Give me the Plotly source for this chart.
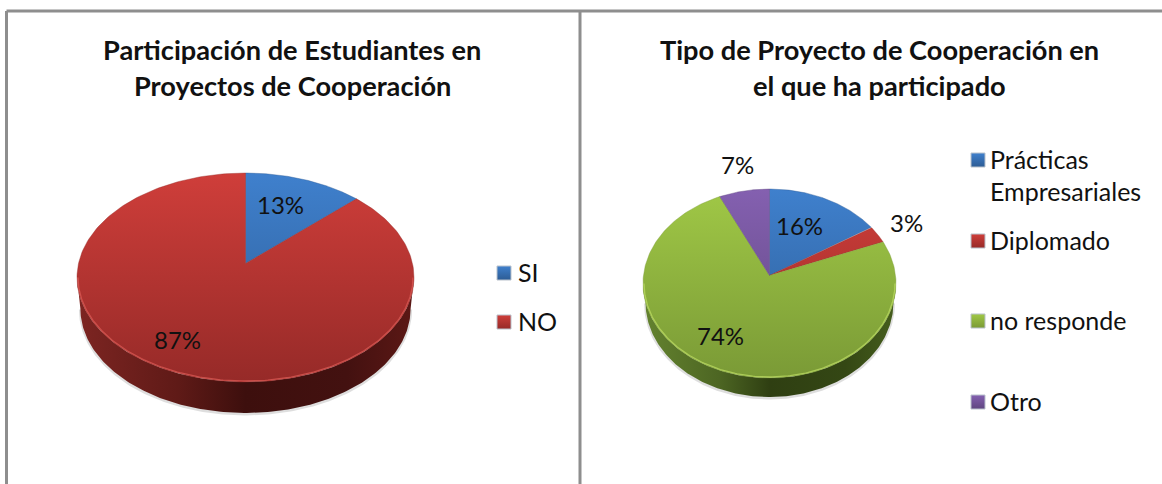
import numpy as np
import plotly.graph_objects as go

# ---------- data ----------
left_title = ["Participación de Estudiantes en", "Proyectos de Cooperación"]
left_categories = ["SI", "NO"]
left_values = [13, 87]

right_title = ["Tipo de Proyecto de Cooperación en", "el que ha participado"]
right_categories = ["Prácticas<br>Empresariales", "Diplomado", "no responde", "Otro"]
right_values = [16, 3, 74, 7]

# ---------- style / layout ----------
W, H = 1162, 484
FONT = "Lato"
TEXT = "#111111"
BLUE = ("#3f80cd", "#2d5c94")
RED = ("#cf3e3a", "#962a28")
GREEN = ("#a0c846", "#7a9a36")
PURPLE = ("#8460b0", "#5f4680")

LEFT = dict(cx=245.5, cy=277.5, rx=168.5, ry=104.5, apex=14, depth=31,
            colors=[BLUE, RED], rim="#dc5a55",
            wall=[[0, "#7d2522"], [0.3, "#5f1a17"], [0.5, "#3d0f0d"], [0.8, "#431110"], [1, "#5c1815"]],
            label_xy=[(280, 204), (177, 339)],
            swatch_xy=[(504, 273), (504, 322)], legend_text_x=515.5)
RIGHT = dict(cx=769.5, cy=283.5, rx=126.5, ry=94.5, apex=8, depth=19,
             colors=[BLUE, RED, GREEN, PURPLE], rim="#bcdc62",
             wall=[[0, "#64832f"], [0.3, "#4d6623"], [0.5, "#2f3f12"], [0.8, "#344714"], [1, "#465e1d"]],
             label_xy=[(799.5, 225), (906, 222), (720, 335), (737, 164)],
             swatch_xy=[(978, 160), (978, 241), (978, 321), (978, 402)], legend_text_x=988)


def rim_point(theta, apex):
    """Where a ray at angle theta from the raised apex meets the unit disc."""
    s, c = np.sin(theta), np.cos(theta)
    r = -apex * c + np.sqrt((apex * c) ** 2 + 1 - apex ** 2)
    return r * s, apex + r * c


fig = go.Figure()
annotations = []


def add_text(x, y, text, size, bold=False, anchor="center"):
    annotations.append(dict(
        x=x, y=y, xref="x", yref="y", text=f"<b>{text}</b>" if bold else text,
        showarrow=False, xanchor=anchor, yanchor="middle", align="left",
        font=dict(family=FONT, size=size, color=TEXT)))


def add_pie(p, values, categories):
    cx, cy, rx, ry = p["cx"], p["cy"], p["rx"], p["ry"]
    top, bottom = cy - ry, cy + ry

    # soft shadow under the wall
    t = np.linspace(np.pi, 0, 200)
    ux, uy = np.cos(t), np.sin(t)
    fig.add_trace(go.Scatter(
        x=cx + rx * 0.98 * ux, y=cy + p["depth"] + ry * uy + 1, mode="lines",
        line=dict(width=3, color="rgba(0,0,0,0.13)"), hoverinfo="skip"))

    # side wall
    wx = np.concatenate([cx + rx * ux, (cx + rx * 0.98 * ux)[::-1]])
    wy = np.concatenate([cy + ry * uy, (cy + p["depth"] + ry * uy)[::-1]])
    fig.add_trace(go.Scatter(
        x=wx, y=wy, mode="lines", line=dict(width=0), fill="toself", hoverinfo="skip",
        fillgradient=dict(type="horizontal", colorscale=p["wall"],
                          start=cx - rx, stop=cx + rx)))

    # top-surface slices
    apex = p["apex"] / ry
    total = sum(values)
    edges = np.cumsum([0] + list(values)) / total * 2 * np.pi
    for i, value in enumerate(values):
        theta = np.linspace(edges[i], edges[i + 1], 240)
        px, py = rim_point(theta, apex)
        xs = np.concatenate([[0], px, [0]])
        ys = np.concatenate([[apex], py, [apex]])
        c0, c1 = p["colors"][i]
        fig.add_trace(go.Scatter(
            x=cx + rx * xs, y=cy - ry * ys, mode="lines", line=dict(width=0.4, color=c1),
            fill="toself", name=categories[i].replace("<br>", " "),
            text=f"{value}%", hoverinfo="name+text",
            fillgradient=dict(type="vertical", colorscale=[[0, c0], [1, c1]],
                              start=top, stop=bottom)))
        lx, ly = p["label_xy"][i]
        add_text(lx, ly, f"{value}%", 24)

    # light bevel along the front rim
    fig.add_trace(go.Scatter(
        x=cx + (rx - 1) * ux, y=cy + (ry - 1) * uy, mode="lines",
        line=dict(width=1.3, color=p["rim"]), opacity=0.75, hoverinfo="skip"))

    # legend
    for i, name in enumerate(categories):
        sx, sy = p["swatch_xy"][i]
        c0, c1 = p["colors"][i]
        fig.add_trace(go.Scatter(
            x=[sx], y=[sy], mode="markers", hoverinfo="skip",
            marker=dict(symbol="square", size=14, color=c0,
                        gradient=dict(type="vertical", color=c1),
                        line=dict(width=1, color="#b9c2cc"))))
        if "<br>" in name:
            first, second = name.split("<br>")
            add_text(p["legend_text_x"], sy - 1.5, first, 25, anchor="left")
            add_text(p["legend_text_x"], sy + 30.5, second, 25, anchor="left")
        else:
            add_text(p["legend_text_x"], sy - 1.5, name, 25, anchor="left")


add_pie(LEFT, left_values, left_categories)
add_pie(RIGHT, right_values, right_categories)

for title, x in ((left_title, 292), (right_title, 879)):
    for line, y in zip(title, (49, 85)):
        add_text(x, y, line, 27.2, bold=True)

frame = dict(color="#8e8e8e", width=3)
shapes = [
    dict(type="line", xref="x", yref="y", x0=6.5, y0=11, x1=W, y1=11, line=frame),
    dict(type="line", xref="x", yref="y", x0=6.5, y0=11, x1=6.5, y1=H, line=frame),
    dict(type="line", xref="x", yref="y", x0=580, y0=11, x1=580, y1=H, line=frame),
]

fig.update_layout(
    width=W, height=H, margin=dict(l=0, r=0, t=0, b=0),
    paper_bgcolor="white", plot_bgcolor="white", showlegend=False,
    annotations=annotations, shapes=shapes,
    xaxis=dict(range=[0, W], visible=False, fixedrange=True),
    yaxis=dict(range=[H, 0], visible=False, fixedrange=True),
)

fig.write_html("out.html", config={"displayModeBar": False},
               post_script="document.body.style.margin='0';document.body.style.overflow='hidden';")
